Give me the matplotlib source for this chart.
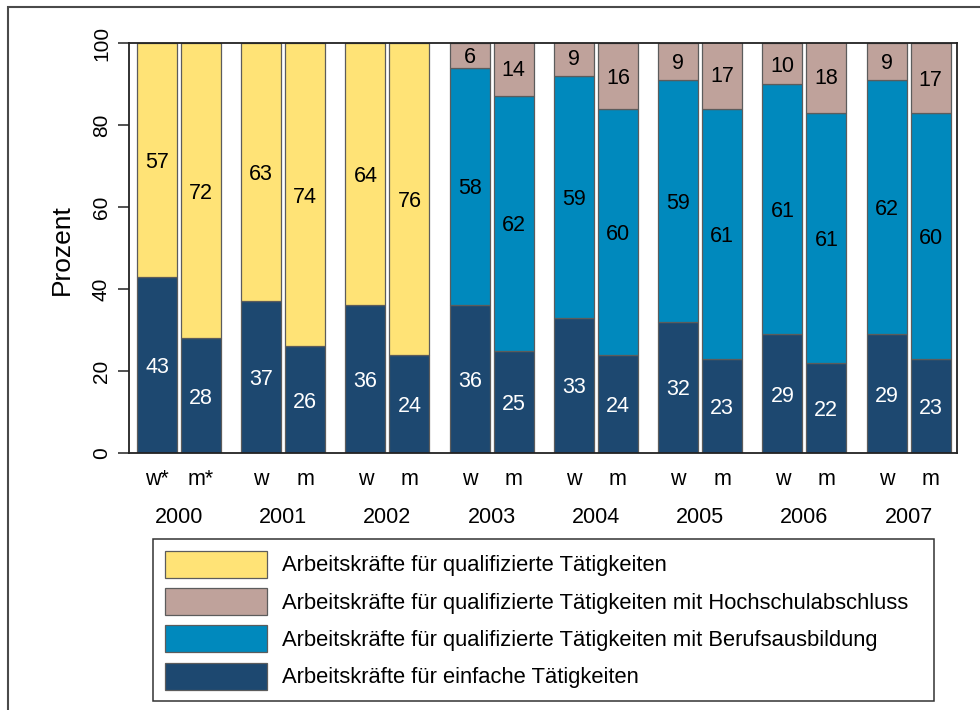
import numpy as np
import matplotlib
matplotlib.use("Agg")
import matplotlib.pyplot as plt
from matplotlib.patches import Patch, Rectangle
from matplotlib.transforms import blended_transform_factory

plt.rcParams["font.family"] = ["Liberation Sans", "DejaVu Sans"]

# --- data (percent), per year: w then m --------------------------------------
YEARS = ["2000", "2001", "2002", "2003", "2004", "2005", "2006", "2007"]
SEX = ["w", "m"]
SEX_2000 = ["w*", "m*"]

EINFACH = [43, 28, 37, 26, 36, 24, 36, 25, 33, 24, 32, 23, 29, 22, 29, 23]
QUALI = [57, 72, 63, 74, 64, 76, 0, 0, 0, 0, 0, 0, 0, 0, 0, 0]
BERUF = [0, 0, 0, 0, 0, 0, 58, 62, 59, 60, 59, 61, 61, 61, 62, 60]
HOCHSCHUL = [0, 0, 0, 0, 0, 0, 6, 14, 9, 16, 9, 17, 10, 18, 9, 17]

LABELS = {
    "quali": "Arbeitskräfte für qualifizierte Tätigkeiten",
    "hochschul": "Arbeitskräfte für qualifizierte Tätigkeiten mit Hochschulabschluss",
    "beruf": "Arbeitskräfte für qualifizierte Tätigkeiten mit Berufsausbildung",
    "einfach": "Arbeitskräfte für einfache Tätigkeiten",
}
COL = {"quali": "#FFE376", "hochschul": "#BFA29B",
       "beruf": "#0089BD", "einfach": "#1D4870"}
EDGE = "#5c5c5c"

fig = plt.figure(figsize=(9.8, 7.1), dpi=100, facecolor="white")
ax = fig.add_axes([129 / 980, 1 - 453 / 710, 828 / 980, 410 / 710])

# bar positions: group index +/- offset
off, bw = 0.211, 0.384
xpos = np.array([g + s for g in range(len(YEARS)) for s in (-off, off)])

bottom = np.zeros(len(xpos))
for key, vals in [("einfach", EINFACH), ("quali", QUALI),
                  ("beruf", BERUF), ("hochschul", HOCHSCHUL)]:
    vals = np.array(vals, dtype=float)
    m = vals > 0
    ax.bar(xpos[m], vals[m], bw, bottom=bottom[m], color=COL[key],
           edgecolor=EDGE, lw=0.9, zorder=2)
    tc = "white" if key == "einfach" else "black"
    for x, b, v in zip(xpos[m], bottom[m], vals[m]):
        ax.text(x, b + v / 2, f"{int(v)}", ha="center", va="center_baseline",
                fontsize=15.5, color=tc, zorder=3)
    bottom += vals

ax.set_xlim(-0.48, 7.465)
ax.set_ylim(0, 100)
ax.set_yticks(range(0, 101, 20))
ax.tick_params(axis="y", length=8, width=1.1, pad=5, labelsize=15, color="#222222")
plt.setp(ax.get_yticklabels(), rotation=90, va="center")
ax.set_xticks([])
for s in ax.spines.values():
    s.set_color("#222222")
    s.set_linewidth(1.3)

# sex / year labels under the bars
tr = blended_transform_factory(ax.transData, ax.transAxes)
for g, yr in enumerate(YEARS):
    sx = SEX_2000 if g == 0 else SEX
    for s, lab in zip((-off, off), sx):
        ax.text(g + s, -0.078, lab, transform=tr, ha="center", va="baseline",
                fontsize=15.5)
    ax.text(g, -0.171, yr, transform=tr, ha="center", va="baseline", fontsize=15.5)

ax.text(-0.081, 0.495, "Prozent", transform=ax.transAxes, rotation=90,
        ha="center", va="center", fontsize=19)

# legend
order = ["quali", "hochschul", "beruf", "einfach"]
handles = [Patch(facecolor=COL[k], edgecolor=EDGE, lw=0.9) for k in order]
leg = fig.legend(handles, [LABELS[k] for k in order], loc="upper left",
                 bbox_to_anchor=(153 / 980, 0, 781 / 980, 1 - 539 / 710),
                 mode="expand", borderaxespad=0, fontsize=15.8, frameon=True,
                 fancybox=False, edgecolor="black", handlelength=4.65,
                 handleheight=1.53, labelspacing=0.46, borderpad=0.53,
                 handletextpad=0.68)
leg.get_frame().set_linewidth(1.1)

# outer frame (only left and top edges visible)
fig.add_artist(Rectangle((8 / 980, -0.1), 1.2, 1 - 7 / 710 + 0.1,
                         transform=fig.transFigure, fill=False,
                         edgecolor="#4a4a4a", lw=1.5))

fig.savefig("out.png", dpi=100, facecolor="white")
